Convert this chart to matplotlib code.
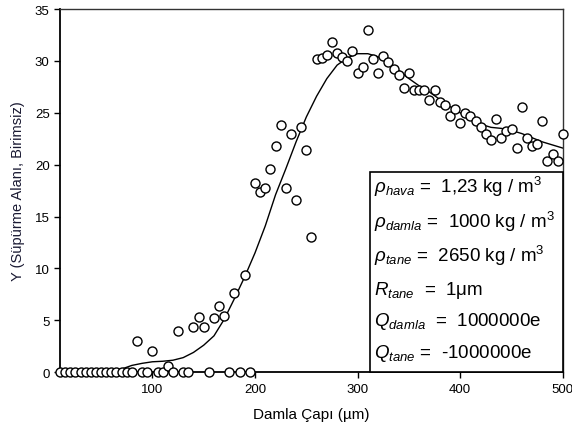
import numpy as np
import matplotlib
matplotlib.use('Agg')
import matplotlib.pyplot as plt
from matplotlib.patches import Rectangle

plt.rcParams['font.family'] = ['Liberation Sans', 'DejaVu Sans']
plt.rcParams['mathtext.fontset'] = 'custom'
plt.rcParams['mathtext.rm'] = 'Liberation Sans'
plt.rcParams['mathtext.it'] = 'Liberation Sans:italic'

# olculen noktalar (damla capi, um)
cap = list(range(10, 505, 5))
y_nokta = [0] * 15 + [
    3.0, 0, 0, 2.0, 0, 0, 0.6, 0, 4.0, 0, 0, 4.4, 5.3, 4.4, 0, 5.2, 6.4, 5.4, 0, 7.6, 0, 9.4, 0,
    18.2, 17.4, 17.8, 19.6, 21.8, 23.8, 17.8, 23.0, 16.6, 23.6, 21.4, 13.0,
    30.2, 30.3, 30.6, 31.8, 30.8, 30.4, 30.0, 31.0, 28.8, 29.4, 33.0, 30.2, 28.8, 30.5, 29.9,
    29.2, 28.6, 27.4, 28.8, 27.2, 27.2, 27.2, 26.2, 27.2, 26.0, 25.8, 24.7, 25.4, 24.0, 25.0,
    24.7, 24.2, 23.6, 23.0, 22.4, 24.4, 22.6, 23.2, 23.4, 21.6, 25.6, 22.6, 21.8, 22.0, 24.2,
    20.4, 21.0, 20.4, 23.0]

# egri (yumusatilmis)
egri_x = list(range(70, 510, 10))
egri_y = [0.3, 0.65, 0.85, 1.0, 1.05, 1.15, 1.4, 1.9, 2.6, 3.5, 5.1, 7.1, 9.2, 11.5, 14.1,
          17.1, 19.6, 22.2, 24.6, 26.6, 28.3, 29.6, 30.3, 30.7, 30.7, 30.4, 29.8, 29.1, 28.3,
          27.6, 27.0, 26.3, 25.6, 25.0, 24.4, 23.9, 23.6, 23.5, 23.3, 23.0, 22.6, 22.2, 21.9, 21.6]

satirlar = [
    r'$\rho_{hava}$ =  1,23 kg / m$^3$',
    r'$\rho_{damla}$ =  1000 kg / m$^3$',
    r'$\rho_{tane}$ =  2650 kg / m$^3$',
    r'$R_{tane}$  =  1$\mathrm{\mu}$m',
    r'$Q_{damla}$  =  1000000e',
    r'$Q_{tane}$ =  -1000000e',
]

fig = plt.figure(figsize=(5.72, 4.39), dpi=100)
ax = fig.add_axes([0.105, 0.150, 0.879, 0.827])

ax.plot(egri_x, egri_y, color='black', lw=1.0, zorder=2)
ax.plot(cap, y_nokta, 'o', mfc='white', mec='black', ms=6.5, mew=1.0, zorder=3, clip_on=False)

ax.set_xlim(10, 500)
ax.set_ylim(0, 35)
ax.set_xticks([100, 200, 300, 400, 500])
ax.set_yticks(range(0, 40, 5))
ax.tick_params(direction='out', length=4, width=1, labelsize=9.5, colors='black')
for s in ['left', 'bottom']:
    ax.spines[s].set_linewidth(1.3)
for s in ['top', 'right']:
    ax.spines[s].set_linewidth(1.0)
    ax.spines[s].set_color('#333333')

ax.set_xlabel('Damla Çapı (µm)', fontsize=11, labelpad=9)
ax.set_ylabel('Y (Süpürme Alanı, Birimsiz)', fontsize=10.5, labelpad=7, color='#1a1a33')

ax.add_patch(Rectangle((0.616, 0), 0.384, 0.551, transform=ax.transAxes,
                       fill=True, facecolor='white', edgecolor='black', lw=1.2, zorder=4, clip_on=False))
ys = [0.512, 0.416, 0.322, 0.229, 0.143, 0.055]
for t, yy in zip(satirlar, ys):
    ax.text(0.624, yy, t, transform=ax.transAxes, fontsize=13.5, va='center', ha='left', zorder=5)

fig.savefig('out.png', dpi=100)
